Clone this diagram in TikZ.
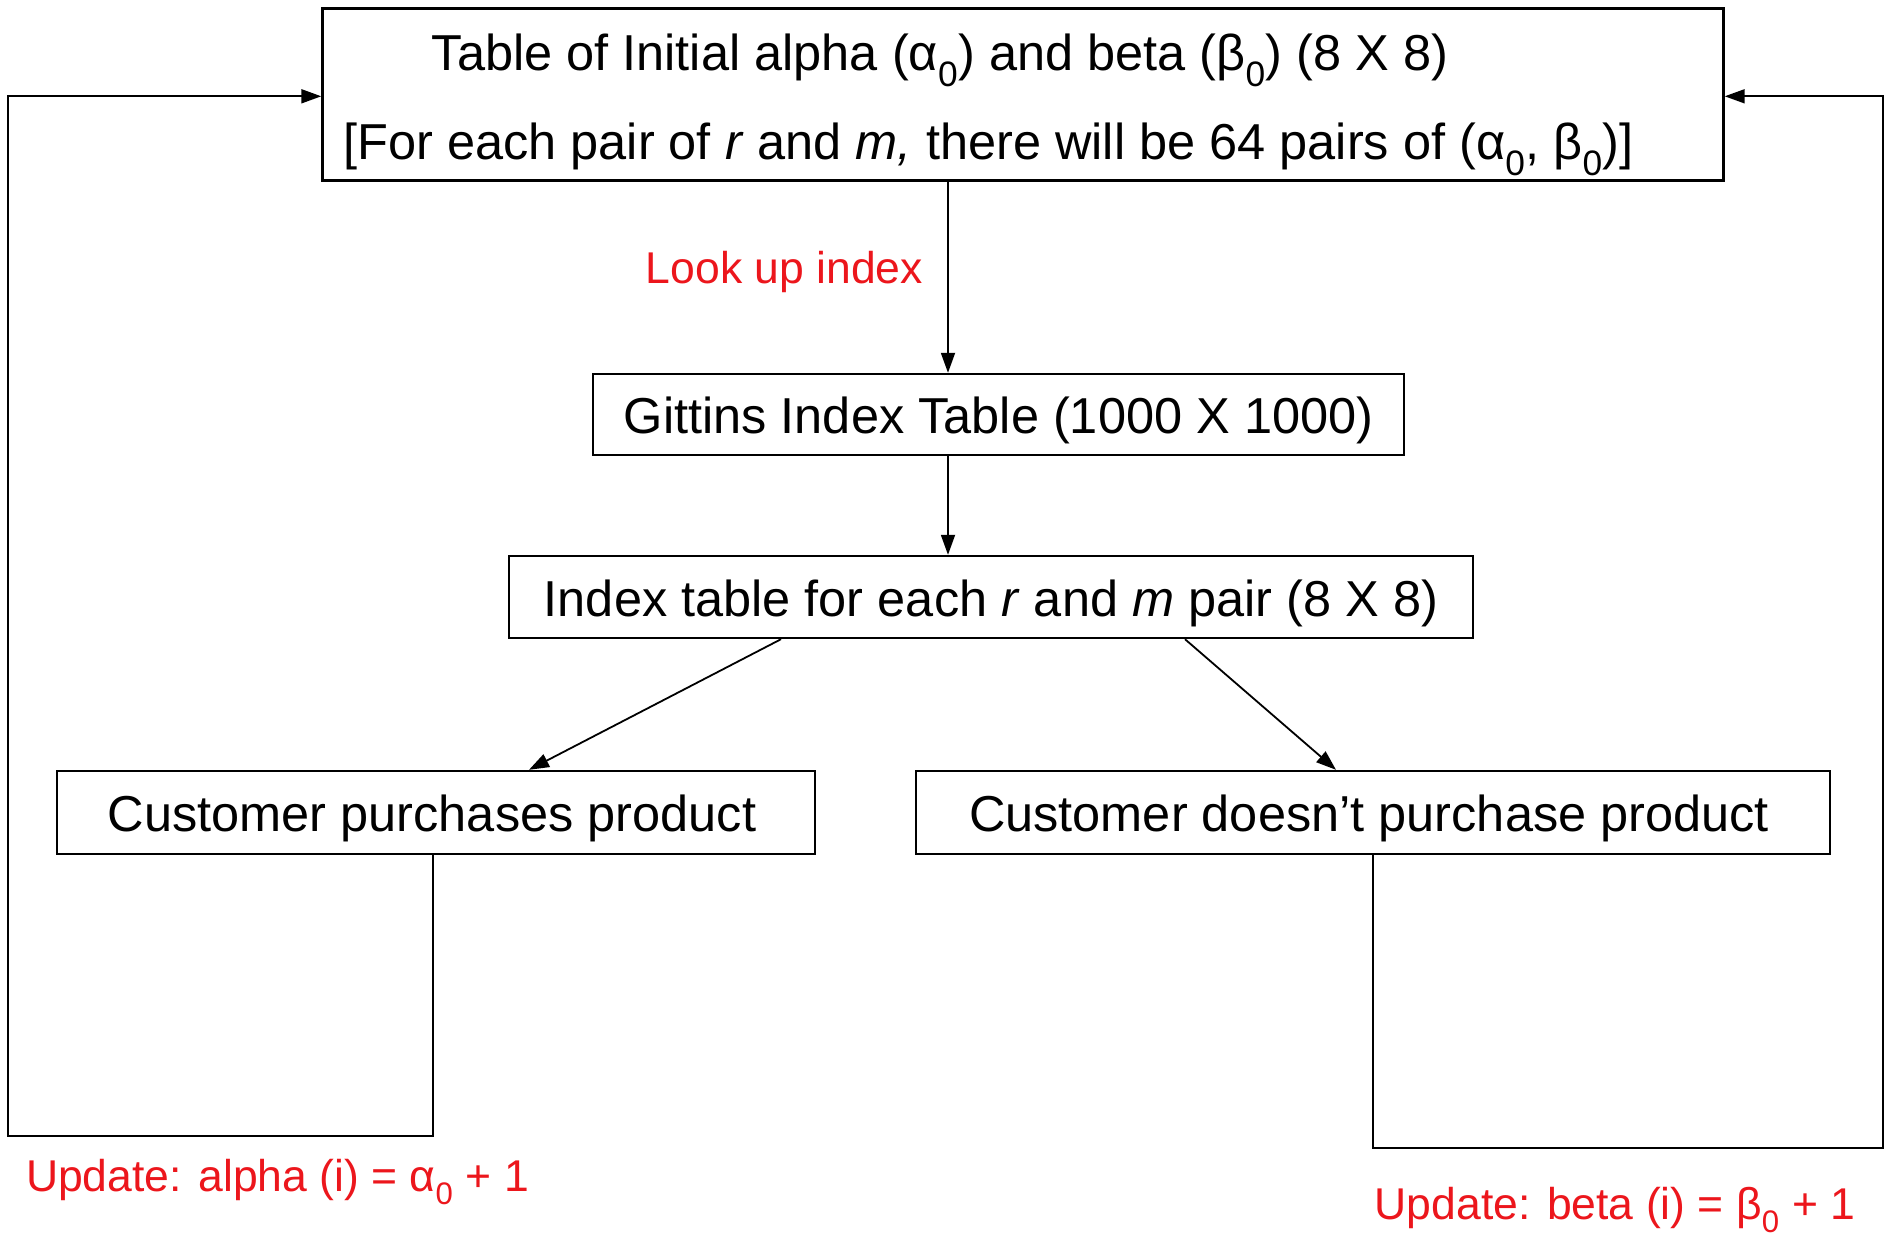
\documentclass[tikz,border=0pt]{standalone}
\usepackage{fontspec}
\setmainfont{Liberation Sans}
\usetikzlibrary{arrows.meta}
\definecolor{lblred}{RGB}{236,22,28}
\begin{document}
\begin{tikzpicture}[x=1bp,y=-1bp,
  box/.style={draw, line width=2.4bp, inner sep=0pt, align=center,
    text height=49bp, text depth=11bp,
    font=\fontsize{50.5bp}{60bp}\selectfont},
  txt/.style={inner sep=0pt, font=\fontsize{50.5bp}{60bp}\selectfont},
  redlbl/.style={inner sep=0pt, text=lblred, font=\fontsize{44.5bp}{54bp}\selectfont},
  arr/.style={line width=1.8bp, -{Triangle[length=20bp,width=14bp]}},
  ln/.style={line width=1.8bp}]
\useasboundingbox[fill=white] (0,0) rectangle (1887,1241);

% boxes
\node[box, minimum width=1401bp, minimum height=172bp] (top) at (1023,94.5) {};
\node[txt] (topA) at (940,60) {Table of Initial alpha (α\textsubscript{0}) and beta (β\textsubscript{0}) (8 X 8)};
\node[txt] (topB) at (988.5,149) {[For each pair of \textit{r} and \textit{m,} there will be 64 pairs of (α\textsubscript{0}, β\textsubscript{0})]};
\node[box, minimum width=811bp, minimum height=81bp] (gittins) at (998.5,414.5) {Gittins Index Table (1000 X 1000)};
\node[box, minimum width=964bp, minimum height=82bp] (index) at (991,597) {Index table for each \textit{r} and \textit{m} pair (8 X 8)};
\node[box, minimum width=758bp, minimum height=83bp] (buy) at (436,812.5) {\hspace*{-8bp}Customer purchases product};
\node[box, minimum width=914bp, minimum height=83bp] (nobuy) at (1373,812.5) {\hspace*{-8bp}Customer doesn’t purchase product};

% helper coordinates
\coordinate (spine) at (948,0);
\coordinate (lb) at (8,1136);
\coordinate (rb) at (1883,1148);

% main flow
\draw[arr] (top.south -| spine) -- (gittins.north -| spine);
\draw[arr] (gittins.south -| spine) -- (index.north -| spine);
\draw[arr] ([xshift=-210bp]index.south) -- ([xshift=93bp]buy.north);
\draw[arr] ([xshift=194bp]index.south) -- ([xshift=-37bp]nobuy.north);

% feedback loops
\draw[arr] ([xshift=-3bp]buy.south) |- (lb) |- ([yshift=-1.8bp]top.west);
\draw[arr] (nobuy.south) |- (rb) |- ([yshift=-1.8bp]top.east);

% labels
\node[redlbl] (lookup) at (784.5,272) {Look up index};
\node[redlbl] (updA) at (277.5,1182) {Update: alpha (i) = α\textsubscript{0} + 1};
\node[redlbl] (updB) at (1615,1210) {Update: beta (i) = β\textsubscript{0} + 1};
\end{tikzpicture}
\end{document}
